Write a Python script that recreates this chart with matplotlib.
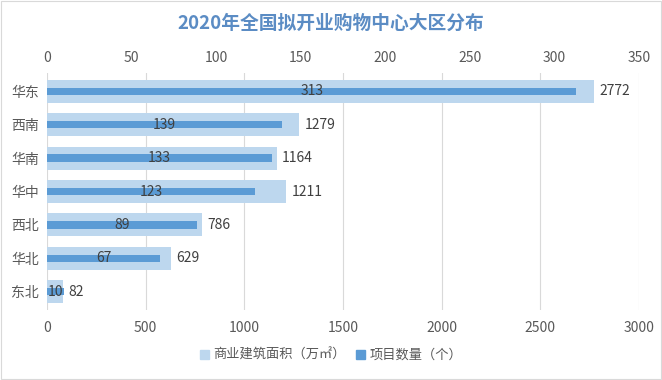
import matplotlib
matplotlib.use("Agg")
import matplotlib.pyplot as plt
from matplotlib.patches import Patch

plt.rcParams['font.family'] = ['Noto Sans CJK SC', 'DejaVu Sans']

regions = ['华东', '西南', '华南', '华中', '西北', '华北', '东北']
area = [2772, 1279, 1164, 1211, 786, 629, 82]      # 商业建筑面积（万㎡）
count = [313, 139, 133, 123, 89, 67, 10]           # 项目数量（个）
title = '2020年全国拟开业购物中心大区分布'
area_label = '商业建筑面积（万㎡）'
count_label = '项目数量（个）'

light = '#bdd7ee'
dark = '#5b9bd5'
txt = '#404040'
tick_c = '#595959'

fig = plt.figure(figsize=(6.62, 3.8), dpi=100)
ax = fig.add_axes([0.071, 0.184, 0.894, 0.624])
ax2 = ax.twiny()

y = list(range(len(regions)))
ax.barh(y, area, height=0.69, color=light, zorder=2)
ax2.barh(y, count, height=0.22, color=dark, zorder=3)

ax.set_xlim(0, 3000)
ax2.set_xlim(0, 350)
ax.set_ylim(6.55, -0.55)
ax.set_xticks(range(0, 3001, 500))
ax2.set_xticks(range(0, 351, 50))
ax.set_yticks(y)
ax.set_yticklabels(regions)

for a in (ax, ax2):
    for s in a.spines.values():
        s.set_visible(False)
    a.tick_params(length=0, labelsize=10, labelcolor=tick_c, pad=6)
ax.tick_params(axis='x', pad=8)
ax.tick_params(axis='y', pad=6)
ax.grid(axis='x', color='#d9d9d9', linewidth=0.8, zorder=0)
ax.set_axisbelow(True)

for yi, a_v, c_v in zip(y, area, count):
    ax.text(a_v + 28, yi, str(a_v), va='center', ha='left', fontsize=10,
            color=txt, zorder=5)
    ax2.text(c_v / 2, yi, str(c_v), va='center', ha='center', fontsize=10,
             color=txt, zorder=5)

fig.text(0.5, 0.94, title, ha='center', va='center', fontsize=13.5,
         fontweight='bold', color='#5b8cc4')

handles = [Patch(color=light, label=area_label), Patch(color=dark, label=count_label)]
fig.legend(handles=handles, loc='center', bbox_to_anchor=(0.5, 0.065), ncol=2,
           frameon=False, fontsize=9.5, labelcolor=tick_c, handlelength=0.7,
           handleheight=0.7, handletextpad=0.3, columnspacing=0.8)

fig.patches.append(plt.Rectangle((0.002, 0.003), 0.996, 0.994, transform=fig.transFigure,
                                 fill=False, edgecolor='#d9d9d9', linewidth=0.8))

fig.savefig('out.png', dpi=100)
